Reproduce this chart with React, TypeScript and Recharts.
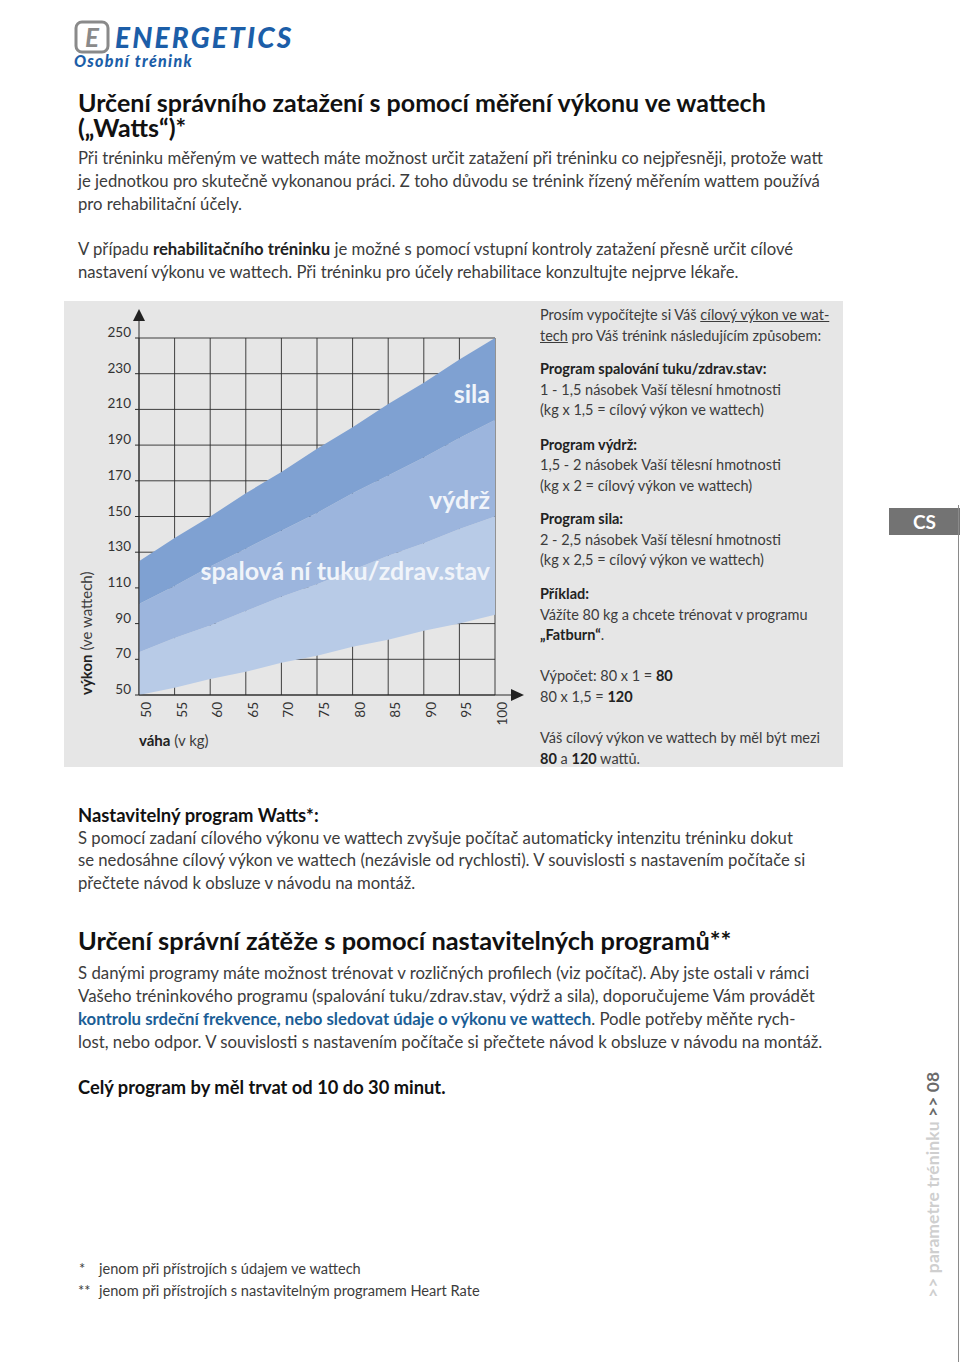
import React from 'react'
import { AreaChart, Area, XAxis, YAxis, CartesianGrid } from 'recharts'

// weight (kg) on the x axis, watt bounds
const weights = [50, 55, 60, 65, 70, 75, 80, 85, 90, 95, 100]
const fatBurnLow = [50, 54, 59, 63, 68, 72, 77, 81, 86, 90, 95]
const fatBurnHigh = [74, 82, 89, 97, 105, 112, 120, 128, 135, 143, 150]
const enduranceHigh = [101, 111, 122, 132, 142, 152, 163, 173, 183, 194, 204]
const strengthHigh = [125, 138, 150, 163, 175, 188, 200, 213, 225, 238, 250]
const wattTicks = [50, 70, 90, 110, 130, 150, 170, 190, 210, 230, 250]

const data = weights.map((kg, i) => ({
  kg,
  fat: [fatBurnLow[i], fatBurnHigh[i]],
  endurance: [fatBurnHigh[i], enduranceHigh[i]],
  strength: [enduranceHigh[i], strengthHigh[i]],
}))

const FONT = 'Lato, "Open Sans", sans-serif'
const TXT = '#3c3c3c'

function T({ x, y, s = 16, b = false, c = TXT, children, ls = 0 }: any) {
  return (
    <div
      style={{
        position: 'absolute',
        left: x,
        top: y - s * 0.6,
        fontSize: s,
        lineHeight: `${s}px`,
        fontWeight: b ? 700 : 400,
        color: c,
        whiteSpace: 'nowrap',
        letterSpacing: ls,
      }}
    >
      {children}
    </div>
  )
}

const YTick = ({ x, y, payload }: any) => (
  <text x={x} y={y - 1} textAnchor="end" fill="#333" fontSize={13.5} fontFamily={FONT}>
    {payload.value}
  </text>
)

// chart div sits at page y=301, labels start just under the axis (page y≈702)
const XTick = ({ x, payload }: any) => (
  <text
    transform={`translate(${x + 12}, 401) rotate(-90)`}
    textAnchor="end"
    fill="#333"
    fontSize={13.5}
    fontFamily={FONT}
  >
    {payload.value}
  </text>
)

const bandLabel: React.CSSProperties = {
  position: 'absolute',
  right: 44,
  fontSize: 25,
  fontWeight: 700,
  color: '#f0f4fa',
  lineHeight: '25px',
  whiteSpace: 'nowrap',
}

function WattChart() {
  return (
    <div style={{ position: 'absolute', left: 64, top: 301, width: 470, height: 466 }}>
      <AreaChart width={470} height={466} data={data} margin={{ top: 37, right: 39, bottom: 42, left: 30 }}>
        <XAxis
          type="number"
          dataKey="kg"
          domain={[50, 100]}
          ticks={weights}
          height={30}
          tickLine={false}
          axisLine={{ stroke: '#2a2a2a' }}
          tick={<XTick />}
          interval={0}
        />
        <YAxis
          type="number"
          domain={[50, 250]}
          ticks={wattTicks}
          width={45}
          tickSize={4}
          tickMargin={4}
          tickLine={{ stroke: '#2a2a2a' }}
          axisLine={{ stroke: '#2a2a2a' }}
          tick={<YTick />}
          interval={0}
        />
        <Area type="linear" dataKey="fat" stroke="none" fill="#b8cbe7" fillOpacity={1} isAnimationActive={false} />
        <Area type="linear" dataKey="endurance" stroke="none" fill="#9cb5dd" fillOpacity={1} isAnimationActive={false} />
        <Area type="linear" dataKey="strength" stroke="none" fill="#7fa1d2" fillOpacity={1} isAnimationActive={false} />
        <CartesianGrid stroke="#2e2e2e" strokeOpacity={0.9} />
      </AreaChart>
      <svg width={470} height={466} style={{ position: 'absolute', left: 0, top: 0, pointerEvents: 'none' }}>
        <line x1={75} y1={37} x2={75} y2={19} stroke="#2a2a2a" />
        <polygon points="69,20 81,20 75,8" fill="#222" />
        <line x1={431} y1={394} x2={448} y2={394} stroke="#2a2a2a" />
        <polygon points="447,388 447,400 460,394" fill="#222" />
      </svg>
      <div style={{ ...bandLabel, top: 80 }}>sila</div>
      <div style={{ ...bandLabel, top: 186 }}>výdrž</div>
      <div style={{ ...bandLabel, top: 257 }}>spalová ní tuku/zdrav.stav</div>
    </div>
  )
}

export default function App() {
  return (
    <div
      style={{
        position: 'absolute',
        left: 0,
        top: 0,
        width: 960,
        height: 1362,
        background: '#fff',
        fontFamily: FONT,
        overflow: 'hidden',
      }}
    >
      {/* logo */}
      <svg width={36} height={34} style={{ position: 'absolute', left: 74, top: 20 }}>
        <rect x={2} y={2} width={32} height={30} rx={6} fill="none" stroke="#8a8a8a" strokeWidth={3} />
        <text x={18} y={27} textAnchor="middle" fontSize={26} fontWeight={700} fontStyle="italic" fill="#8a8a8a" fontFamily={FONT}>
          E
        </text>
      </svg>
      <T x={115} y={40} s={28} b c="#1c5ea8">
        <span style={{ fontStyle: 'italic', fontWeight: 900, letterSpacing: 2.2 }}>ENERGETICS</span>
      </T>
      <T x={74} y={63} s={16} b c="#1c5ea8">
        <span style={{ fontStyle: 'italic', fontWeight: 900, letterSpacing: 1.3 }}>Osobní trénink</span>
      </T>

      {/* title */}
      <T x={78} y={105} s={25} b c="#111">Určení správního zatažení s pomocí měření výkonu ve wattech</T>
      <T x={78} y={130} s={25} b c="#111">(„Watts“)*</T>

      <T x={78} y={160} s={16.7}>Při tréninku měřeným ve wattech máte možnost určit zatažení při tréninku co nejpřesněji, protože watt</T>
      <T x={78} y={183} s={16.7}>je jednotkou pro skutečně vykonanou práci. Z toho důvodu se trénink řízený měřením wattem používá</T>
      <T x={78} y={206} s={16.7}>pro rehabilitační účely.</T>
      <T x={78} y={251} s={16.7}>
        V případu <b style={{ color: '#222' }}>rehabilitačního tréninku</b> je možné s pomocí vstupní kontroly zatažení přesně určit cílové
      </T>
      <T x={78} y={274} s={16.7}>nastavení výkonu ve wattech. Při tréninku pro účely rehabilitace konzultujte nejprve lékaře.</T>

      {/* grey panel */}
      <div style={{ position: 'absolute', left: 64, top: 301, width: 779, height: 466, background: '#e6e6e6' }} />
      <WattChart />
      <div
        style={{
          position: 'absolute',
          left: 78,
          top: 695,
          transform: 'rotate(-90deg)',
          transformOrigin: '0 0',
          fontSize: 15,
          lineHeight: '16px',
          color: TXT,
          whiteSpace: 'nowrap',
        }}
      >
        <b style={{ color: '#222' }}>výkon</b> (ve wattech)
      </div>
      <T x={139} y={742} s={15}>
        <b style={{ color: '#222' }}>váha</b> (v kg)
      </T>

      <T x={540} y={317} s={14.5}>
        Prosím vypočítejte si Váš <u>cílový výkon ve wat-</u>
      </T>
      <T x={540} y={338} s={14.5}>
        <u>tech</u> pro Váš trénink následujícím způsobem:
      </T>
      <T x={540} y={371} s={14.5} b c="#222">Program spalování tuku/zdrav.stav:</T>
      <T x={540} y={392} s={14.5}>1 - 1,5 násobek Vaší tělesní hmotnosti</T>
      <T x={540} y={412} s={14.5}>(kg x 1,5 = cílový výkon ve wattech)</T>
      <T x={540} y={447} s={14.5} b c="#222">Program výdrž:</T>
      <T x={540} y={467} s={14.5}>1,5 - 2 násobek Vaší tělesní hmotnosti</T>
      <T x={540} y={488} s={14.5}>(kg x 2 = cílový výkon ve wattech)</T>
      <T x={540} y={521} s={14.5} b c="#222">Program sila:</T>
      <T x={540} y={542} s={14.5}>2 - 2,5 násobek Vaší tělesní hmotnosti</T>
      <T x={540} y={562} s={14.5}>(kg x 2,5 = cílový výkon ve wattech)</T>
      <T x={540} y={596} s={14.5} b c="#222">Příklad:</T>
      <T x={540} y={617} s={14.5}>Vážíte 80 kg a chcete trénovat v programu</T>
      <T x={540} y={637} s={14.5}>
        <b style={{ color: '#222' }}>„Fatburn“</b>.
      </T>
      <T x={540} y={678} s={14.5}>
        Výpočet: 80 x 1 = <b style={{ color: '#222' }}>80</b>
      </T>
      <T x={540} y={699} s={14.5}>
        80 x 1,5 = <b style={{ color: '#222' }}>120</b>
      </T>
      <T x={540} y={740} s={14.5}>Váš cílový výkon ve wattech by měl být mezi</T>
      <T x={540} y={761} s={14.5}>
        <b style={{ color: '#222' }}>80</b> a <b style={{ color: '#222' }}>120</b> wattů.
      </T>

      {/* CS tab */}
      <div
        style={{
          position: 'absolute',
          left: 889,
          top: 508,
          width: 71,
          height: 27,
          background: '#737373',
          color: '#fff',
          fontWeight: 700,
          fontSize: 19,
          lineHeight: '27px',
          textAlign: 'center',
        }}
      >
        CS
      </div>
      <div style={{ position: 'absolute', left: 958, top: 505, width: 1, height: 857, background: '#8a8a8a' }} />

      <T x={78} y={817} s={18.4} b c="#111">Nastavitelný program Watts*:</T>
      <T x={78} y={840} s={16.7}>S pomocí zadaní cílového výkonu ve wattech zvyšuje počítač automaticky intenzitu tréninku dokut</T>
      <T x={78} y={862} s={16.7}>se nedosáhne cílový výkon ve wattech (nezávisle od rychlosti). V souvislosti s nastavením počítače si</T>
      <T x={78} y={885} s={16.7}>přečtete návod k obsluze v návodu na montáž.</T>

      <T x={78} y={943} s={25.4} b c="#111">Určení správní zátěže s pomocí nastavitelných programů**</T>
      <T x={78} y={975} s={16.8}>S danými programy máte možnost trénovat v rozličných profilech (viz počítač). Aby jste ostali v rámci</T>
      <T x={78} y={998} s={16.8}>Vašeho tréninkového programu (spalování tuku/zdrav.stav, výdrž a sila), doporučujeme Vám provádět</T>
      <T x={78} y={1021} s={16.8}>
        <b style={{ color: '#1b5e96' }}>kontrolu srdeční frekvence, nebo sledovat údaje o výkonu ve wattech</b>. Podle potřeby měňte rych-
      </T>
      <T x={78} y={1044} s={16.8}>lost, nebo odpor. V souvislosti s nastavením počítače si přečtete návod k obsluze v návodu na montáž.</T>
      <T x={78} y={1089} s={18.3} b c="#111">Celý program by měl trvat od 10 do 30 minut.</T>

      <T x={79} y={1271} s={14.6}>*</T>
      <T x={99} y={1271} s={14.6}>jenom při přístrojích s údajem ve wattech</T>
      <T x={78} y={1293} s={14.6}>**</T>
      <T x={99} y={1293} s={14.6}>jenom při přístrojích s nastavitelným programem Heart Rate</T>

      <div
        style={{
          position: 'absolute',
          left: 924,
          top: 1298,
          transform: 'rotate(-90deg)',
          transformOrigin: '0 0',
          fontSize: 17.5,
          lineHeight: '18px',
          fontWeight: 700,
          whiteSpace: 'nowrap',
          color: '#cfcfcf',
          letterSpacing: 0.1,
        }}
      >
        &gt;&gt; parametre tréninku <span style={{ color: '#6a6a6a' }}>&gt;&gt; 08</span>
      </div>
    </div>
  )
}
